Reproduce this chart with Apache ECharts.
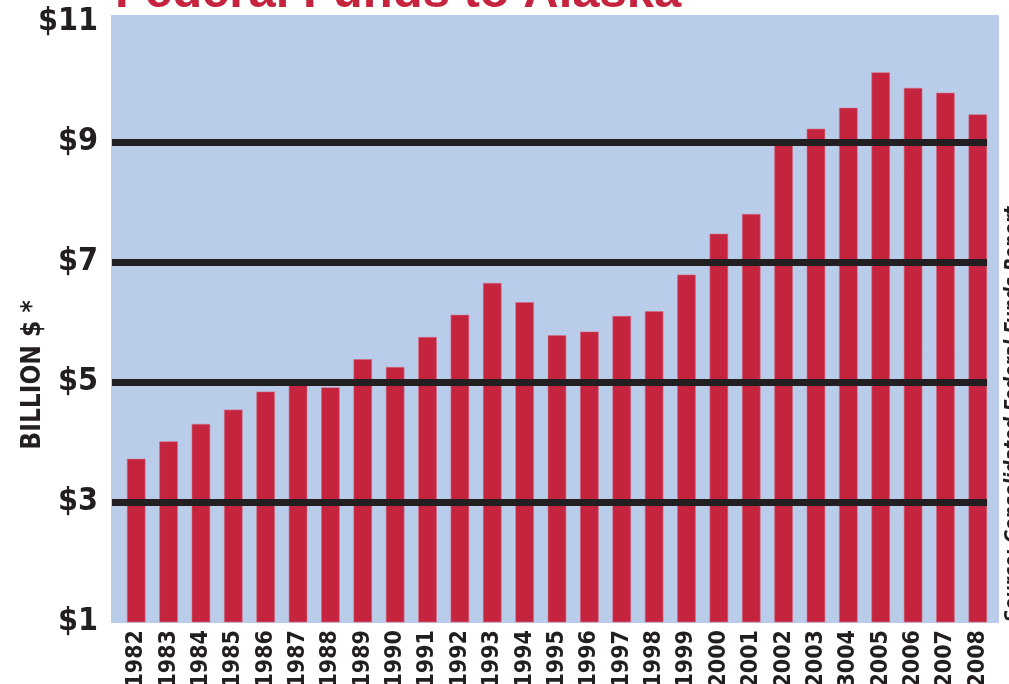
<!DOCTYPE html>
<html>
<head>
<meta charset="utf-8">
<script src="https://cdn.jsdelivr.net/npm/echarts@6/dist/echarts.min.js"></script>
<style>
html, body { margin: 0; padding: 0; background: #fff; }
#chart { width: 1009px; height: 684px; }
</style>
</head>
<body>
<div id="chart"></div>
<script>
// year labels as printed (the original really prints "3004" under 2004)
var yearLabels = ['1982', '1983', '1984', '1985', '1986', '1987', '1988', '1989', '1990',
    '1991', '1992', '1993', '1994', '1995', '1996', '1997', '1998', '1999', '2000',
    '2001', '2002', '2003', '3004', '2005', '2006', '2007', '2008'];
// federal funds, billion $
var fundValues = [3.72, 4.01, 4.30, 4.54, 4.84, 4.97, 4.91, 5.38, 5.25,
    5.75, 6.12, 6.65, 6.33, 5.78, 5.84, 6.10, 6.18, 6.79, 7.47,
    7.80, 8.98, 9.22, 9.57, 10.16, 9.90, 9.82, 9.46];
var yMin = 1;
var yMax = 11;
var yStep = 2;

var narrow = "'Liberation Sans Narrow', 'DejaVu Sans Condensed', sans-serif";
var red = '#c5243f';

var chart = echarts.init(document.getElementById('chart'));

var option = {
    animation: false,
    backgroundColor: '#fff',
    grid: [
        // bars
        { left: 120, right: 15, top: 22, bottom: 62, outerBoundsMode: 'none' },
        // black rules + labels, a bit wider than the bar band
        { left: 112, right: 22, top: 22, bottom: 62, outerBoundsMode: 'none' }
    ],
    xAxis: [{
        type: 'category',
        gridIndex: 0,
        data: yearLabels,
        axisLine: { show: false },
        axisTick: { show: false },
        axisLabel: {
            rotate: 90,
            interval: 0,
            margin: 8,
            color: '#231f20',
            fontFamily: narrow,
            fontWeight: 'bold',
            fontSize: 23
        }
    }, {
        type: 'value',
        gridIndex: 1,
        show: false
    }],
    yAxis: [{
        type: 'value',
        gridIndex: 0,
        min: yMin,
        max: yMax,
        interval: yStep,
        show: false
    }, {
        type: 'value',
        gridIndex: 1,
        min: yMin,
        max: yMax,
        interval: yStep,
        z: 5,
        axisLine: { show: false },
        axisTick: { show: false },
        axisLabel: {
            margin: 14,
            color: '#231f20',
            fontFamily: narrow,
            fontWeight: 'bold',
            fontSize: 32,
            formatter: function (v) { return '$' + v; }
        },
        splitLine: {
            show: true,
            showMinLine: false,
            showMaxLine: false,
            lineStyle: { color: '#231f20', width: 7 }
        }
    }],
    graphic: [{
        type: 'rect',
        z: -10,
        shape: { x: 111, y: 15, width: 888, height: 608 },
        style: { fill: '#b9cdea' }
    }, {
        type: 'text',
        x: 115,
        y: 18,
        style: {
            text: 'Federal Funds to Alaska',
            fill: red,
            font: 'bold 49px ' + "'Liberation Sans', sans-serif",
            verticalAlign: 'bottom'
        }
    }, {
        type: 'text',
        x: 33,
        y: 375,
        rotation: Math.PI / 2,
        style: {
            text: 'BILLION $ *',
            fill: '#231f20',
            font: 'bold 26px ' + narrow,
            align: 'center',
            verticalAlign: 'middle'
        }
    }, {
        type: 'text',
        x: 1013,
        y: 622,
        rotation: Math.PI / 2,
        style: {
            text: 'Source: Consolidated Federal Funds Report',
            fill: '#231f20',
            font: 'italic bold 19px ' + narrow,
            align: 'left',
            verticalAlign: 'middle'
        }
    }],
    series: [{
        type: 'bar',
        xAxisIndex: 0,
        yAxisIndex: 0,
        data: fundValues,
        barWidth: 18.5,
        itemStyle: { color: red, borderColor: '#d66a80', borderWidth: 0.6 }
    }]
};
chart.setOption(option);
</script>
</body>
</html>
